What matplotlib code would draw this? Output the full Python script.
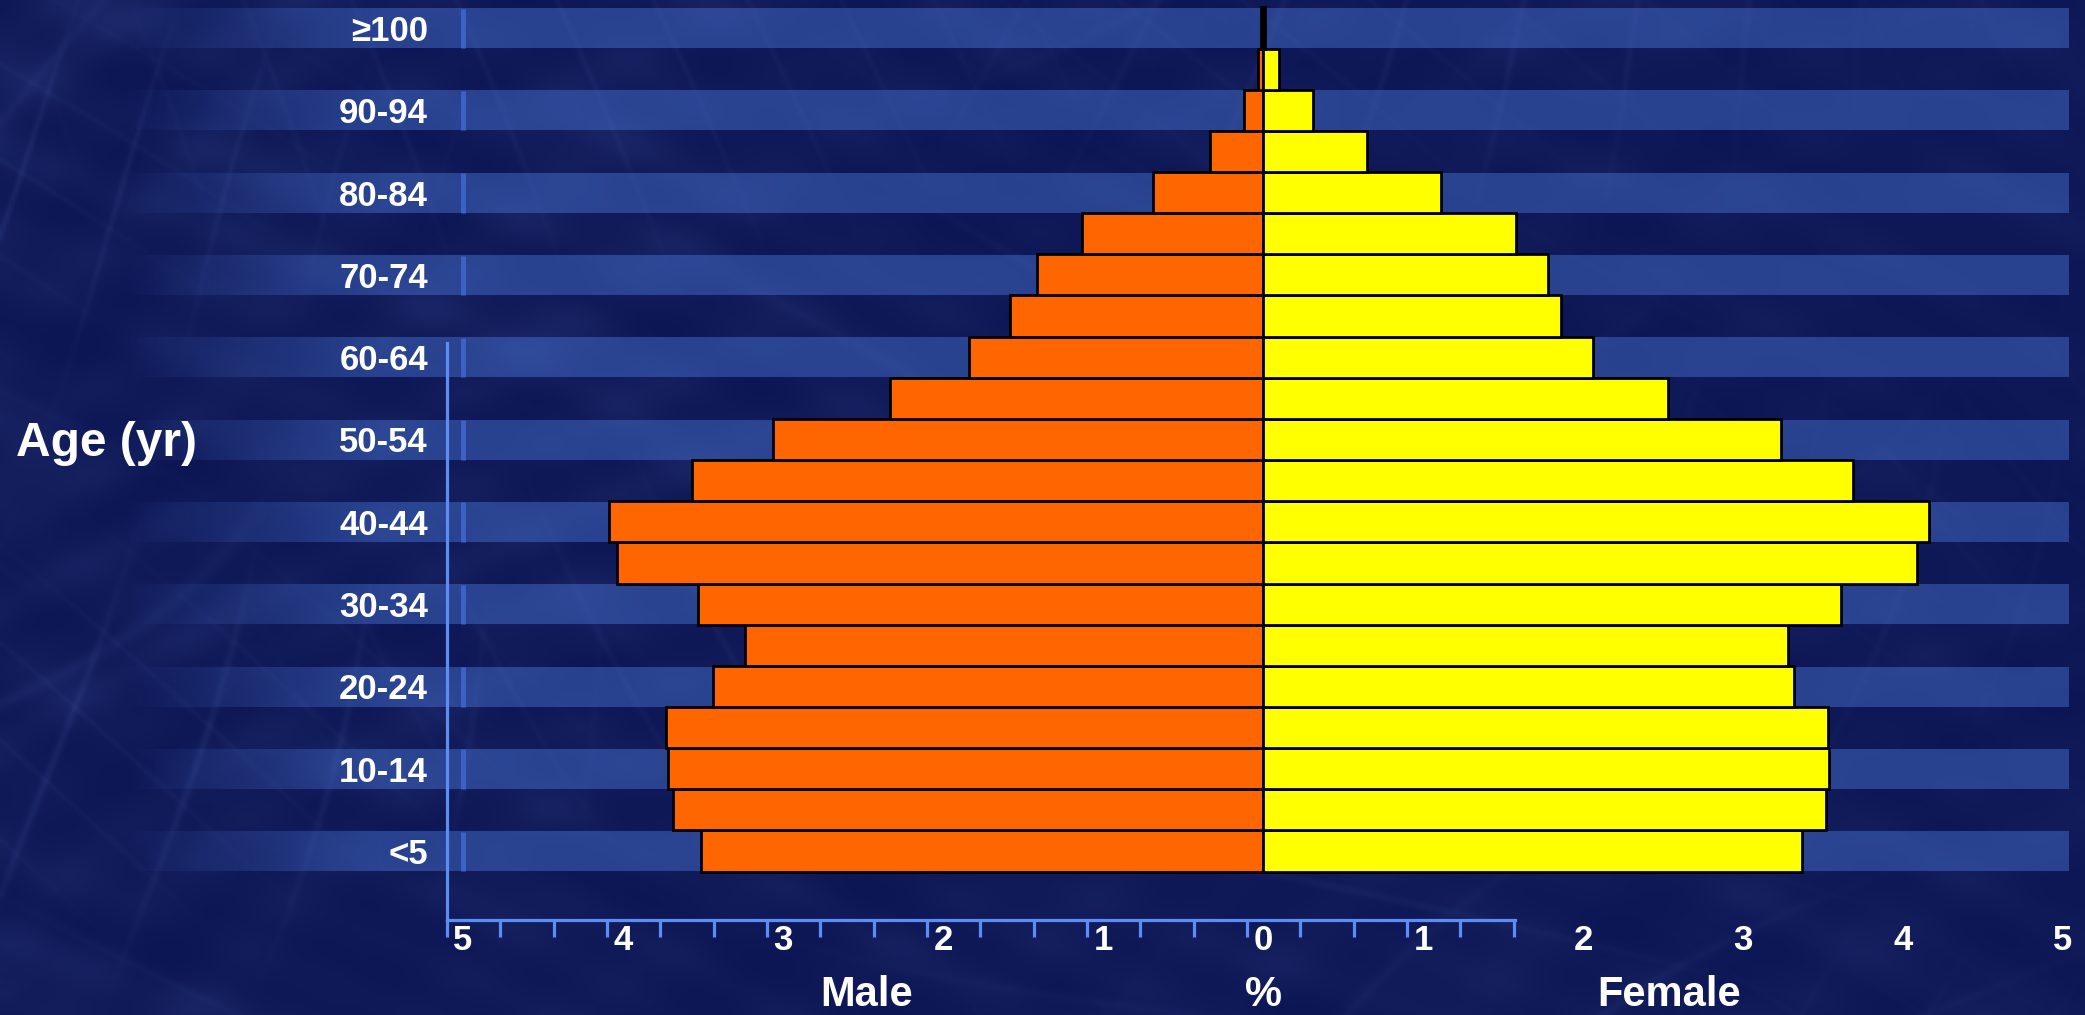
import numpy as np
import matplotlib
matplotlib.use("Agg")
import matplotlib.pyplot as plt
from matplotlib.colors import to_rgb

# Age groups (youngest at the bottom) and share of population, in %
age_groups = ["<5", "5-9", "10-14", "15-19", "20-24", "25-29", "30-34", "35-39",
              "40-44", "45-49", "50-54", "55-59", "60-64", "65-69", "70-74",
              "75-79", "80-84", "85-89", "90-94", "95-99", "\u2265100"]
male = [3.51, 3.69, 3.72, 3.73, 3.44, 3.24, 3.53, 4.04, 4.09, 3.57, 3.06,
        2.33, 1.84, 1.58, 1.41, 1.13, 0.69, 0.33, 0.12, 0.03, 0.01]
female = [3.37, 3.52, 3.54, 3.53, 3.32, 3.28, 3.61, 4.09, 4.16, 3.69, 3.24,
          2.53, 2.06, 1.86, 1.78, 1.58, 1.11, 0.65, 0.31, 0.10, 0.015]
x_tick_values = [-5, -4, -3, -2, -1, 0, 1, 2, 3, 4, 5]
x_tick_labels = ["5", "4", "3", "2", "1", "0", "1", "2", "3", "4", "5"]

FONT = ["Liberation Sans", "DejaVu Sans"]
plt.rcParams["font.family"] = FONT

W_PX, H_PX, DPI = 2085, 1015, 100
fig = plt.figure(figsize=(W_PX / DPI, H_PX / DPI), dpi=DPI)
ax = fig.add_axes([0, 0, 1, 1])

XLIM = (-7.894, 5.1375)
YLIM = (-3.985, 20.68)

# ---- textured navy backdrop -------------------------------------------------
h, w = 340, 700
yy, xx = np.mgrid[0:1:h * 1j, 0:1:w * 1j]
streaks = np.zeros_like(xx)
families = [(0.35, 9.0, 0.3, 0.9), (1.9, 7.0, 1.1, 0.7), (2.6, 11.0, 2.0, 0.6),
            (0.9, 5.0, 0.7, 0.8), (2.2, 13.0, 0.4, 0.5)]
for ang, freq, ph, wgt in families:
    u = xx * 2.05 * np.cos(ang) + yy * np.sin(ang)
    warp = 1.6 * np.sin(3.1 * yy + 2.3 * xx + ph) + 0.9 * np.sin(7.3 * xx - 4.1 * yy)
    s = np.sin(freq * u * np.pi + warp + ph)
    # fade each streak family in and out along its length
    gate = np.clip(np.sin(5.3 * xx + 4.7 * yy + 3 * ph) * np.sin(6.1 * yy - 2.9 * xx + ph), 0, 1)
    streaks += wgt * gate * np.exp(-(s ** 2) / 0.008)
mottle = np.zeros_like(xx)
for fx, fy, p in [(17, 13, 0.0), (31, 27, 1.3), (53, 47, 2.1), (89, 71, 0.7)]:
    mottle += np.sin(fx * xx + 3 * np.sin(9 * yy + p)) * np.sin(fy * yy + 2 * np.sin(11 * xx - p))
mottle = 0.5 + 0.5 * mottle / 4
intensity = 0.13 * streaks + 0.22 * mottle ** 2
envelope = 1.1 - 0.55 * xx
intensity = np.clip(intensity * envelope, 0, 0.45)
base = np.array([13, 22, 84]) / 255
light = np.array([90, 115, 190]) / 255
bg = base + (light - base) * intensity[..., None]
ax.imshow(bg, extent=[XLIM[0], XLIM[1], YLIM[0], YLIM[1]], aspect="auto",
          interpolation="bilinear", zorder=0)

# ---- alternating light bands behind the labelled rows -----------------------
band_rgb = to_rgb("#4a78d8")
band_left, band_solid, band_right = -7.14, -5.52, 5.03
n = 400
xs = np.linspace(band_left, band_right, n)
alpha = np.clip((xs - band_left) / (band_solid - band_left), 0, 1) * 0.45
band_img = np.zeros((1, n, 4))
band_img[..., :3] = band_rgb
band_img[..., 3] = alpha
for k in range(0, len(age_groups), 2):
    ax.imshow(band_img, extent=[band_left, band_right, k - 0.49, k + 0.47],
              aspect="auto", interpolation="bilinear", zorder=1)
    ax.plot([-5, -5], [k - 0.49, k + 0.47], color="#4068d0", lw=3.5,
            alpha=0.85, solid_capstyle="butt", zorder=1.5)

# ---- pyramid bars -----------------------------------------------------------
y = np.arange(len(age_groups))
ax.barh(y, -np.array(male), height=1.0, color="#ff6600", edgecolor="black",
        linewidth=2.0, zorder=3)
ax.barh(y, female, height=1.0, color="#ffff00", edgecolor="black",
        linewidth=2.0, zorder=3)

ax.set_xlim(*XLIM)
ax.set_ylim(*YLIM)

# ---- axes styling -----------------------------------------------------------
axis_blue = "#5b8df2"
axis_y = -1.677
left_x = -5.1
for side in ("top", "right"):
    ax.spines[side].set_visible(False)
ax.spines["bottom"].set_position(("data", axis_y))
ax.spines["bottom"].set_bounds(left_x, 1.575)
ax.spines["left"].set_position(("data", left_x))
ax.spines["left"].set_bounds(axis_y, 12.345)
for side in ("bottom", "left"):
    ax.spines[side].set_color(axis_blue)
    ax.spines[side].set_linewidth(2.3)
    ax.spines[side].set_zorder(4)

ax.set_xticks(x_tick_values, x_tick_labels)
ax.set_xticks([left_x + i / 3 for i in range(21)], minor=True)
ax.tick_params(axis="x", which="major", length=0, pad=3, labelsize=25,
               labelcolor="white")
ax.tick_params(axis="x", which="minor", length=12.5, width=2.3, color=axis_blue,
               direction="out")
for lbl in ax.get_xticklabels():
    lbl.set_fontweight("bold")

ax.set_yticks(y[::2], age_groups[::2])
ax.tick_params(axis="y", length=0, pad=13.7, labelsize=25, labelcolor="white")
for lbl in ax.get_yticklabels():
    lbl.set_fontweight("bold")

# ---- titles -----------------------------------------------------------------
text_kw = dict(color="white", fontsize=30, fontweight="bold", ha="center",
               va="center", zorder=5)
ax.text(-2.48, -3.50, "Male", **text_kw)
ax.text(0.0, -3.50, "%", **text_kw)
ax.text(2.54, -3.50, "Female", **text_kw)
fig.text(16 / W_PX, 1 - 443 / H_PX, "Age (yr)", color="white", fontsize=34.5,
         fontweight="bold", ha="left", va="center")

fig.savefig("out.png", dpi=DPI)
